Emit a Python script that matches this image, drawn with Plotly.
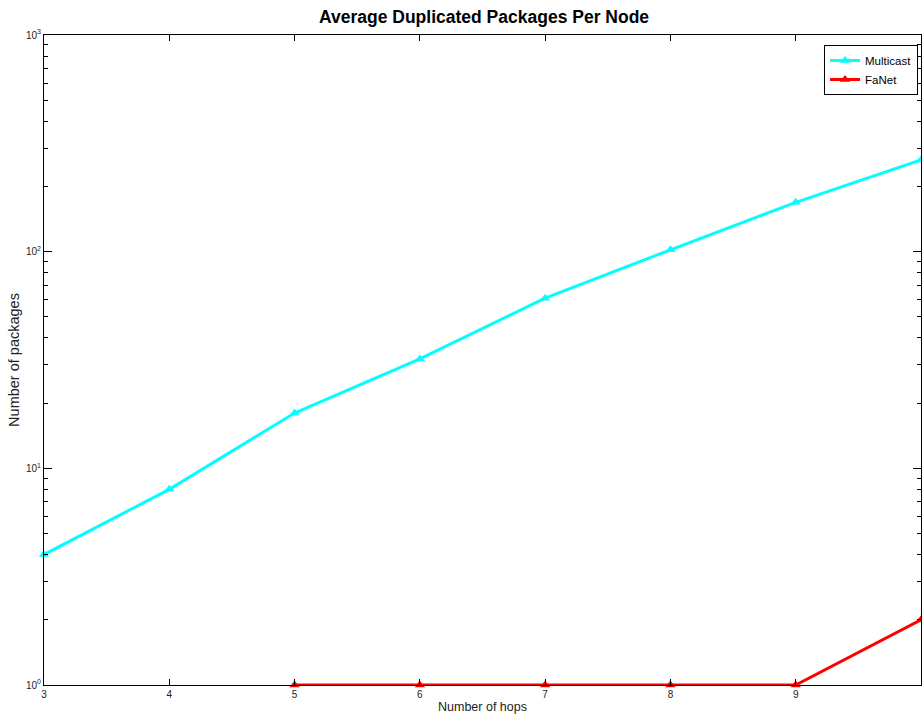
import plotly.graph_objects as go

hops = [3, 4, 5, 6, 7, 8, 9, 10]
multicast = [4, 8, 18, 32, 61, 102, 169, 265]
fanet_hops = [5, 6, 7, 8, 9, 10]
fanet = [1, 1, 1, 1, 1, 2]
ytick_vals = [1, 10, 100, 1000]
ytick_text = ["10<sup>0</sup>", "10<sup>1</sup>", "10<sup>2</sup>", "10<sup>3</sup>"]

FONT = "Liberation Sans Narrow, Arial Narrow, Liberation Sans, Arial, sans-serif"

fig = go.Figure()
fig.add_trace(go.Scatter(x=hops, y=multicast, mode="lines+markers", name="Multicast",
                         line=dict(color="#00ffff", width=3),
                         marker=dict(symbol="triangle-up", size=9, color="#00ffff"),
                         cliponaxis=False))
fig.add_trace(go.Scatter(x=fanet_hops, y=fanet, mode="lines+markers", name="FaNet",
                         line=dict(color="#ff0000", width=3),
                         marker=dict(symbol="triangle-up", size=9, color="#ff0000"),
                         cliponaxis=False))

fig.update_layout(
    width=922, height=716,
    margin=dict(l=44, r=1, t=35, b=31, autoexpand=False),
    paper_bgcolor="white", plot_bgcolor="white",
    font=dict(family=FONT, size=10, color="#222"),
    title=dict(text="<b>Average Duplicated Packages Per Node</b>", x=0.525, xanchor="center",
               y=0.976, yanchor="middle", font=dict(size=17.5, color="black", family=FONT)),
    showlegend=True,
    legend=dict(x=0.9966, y=0.9846, xanchor="right", yanchor="top",
                bordercolor="black", borderwidth=1, bgcolor="white",
                font=dict(size=11.5, family=FONT, color="black"),
                itemwidth=30, tracegroupgap=0),
)
fig.update_xaxes(range=[3, 10], tickvals=hops, ticktext=[str(h) for h in hops],
                 showline=True, linecolor="black", linewidth=1, mirror="ticks",
                 ticks="inside", ticklen=6, tickcolor="black", showgrid=False, zeroline=False,
                 automargin=False,
                 title=dict(text="Number of hops", standoff=3, font=dict(size=12.5, family=FONT)),
                 tickfont=dict(size=10))
fig.update_yaxes(type="log", range=[0, 3], tickvals=ytick_vals, ticktext=ytick_text,
                 showline=True, linecolor="black", linewidth=1, mirror="ticks",
                 ticks="inside", ticklen=8, tickcolor="black", showgrid=False, zeroline=False,
                 automargin=False,
                 minor=dict(ticks="inside", ticklen=4, tickcolor="black",
                            tickvals=[m * d for d in (1, 10, 100) for m in range(2, 10)]),
                 title=dict(text="Number of packages", standoff=2, font=dict(size=14.5, family=FONT)),
                 tickfont=dict(size=10))

fig.write_html("out.html", config={"displayModeBar": False},
               post_script="document.body.style.margin='0';document.body.style.overflow='hidden';")
